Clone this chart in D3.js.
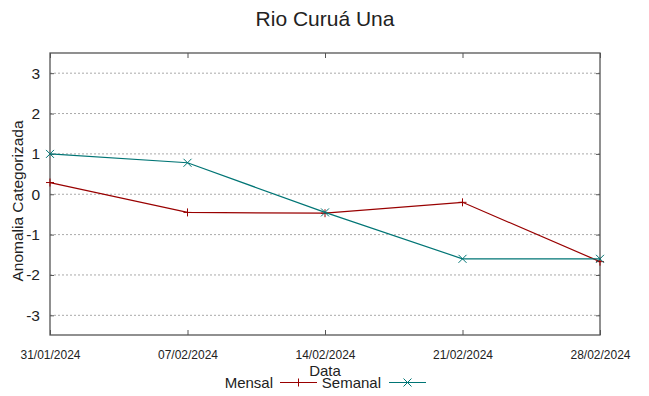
<!DOCTYPE html>
<html>
<head>
<meta charset="utf-8">
<script src="https://cdn.jsdelivr.net/npm/d3@7"></script>
<style>
  body { margin: 0; background: #fff; }
  text { font-family: "Liberation Sans", Arial, sans-serif; fill: #222; }
</style>
</head>
<body>
<svg width="649" height="396"></svg>
<script>
const dates = ["2024-01-31", "2024-02-07", "2024-02-14", "2024-02-21", "2024-02-28"];
const mensal = [0.29, -0.45, -0.47, -0.2, -1.67];
const semanal = [1.0, 0.78, -0.45, -1.6, -1.6];
const yTicks = [-3, -2, -1, 0, 1, 2, 3];

const parse = d3.timeParse("%Y-%m-%d");
const fmt = d3.timeFormat("%d/%m/%Y");

const svg = d3.select("svg");
const margin = {top: 53, right: 49, bottom: 61, left: 50};
const W = 649, H = 396;
const x0 = margin.left, x1 = W - margin.right;
const y0 = H - margin.bottom, y1 = margin.top;

const xScale = d3.scaleTime()
  .domain([parse(dates[0]), parse(dates[dates.length - 1])])
  .range([x0, x1]);
const yScale = d3.scaleLinear().domain([-3.5, 3.5]).range([y0 + 0.5, y1]);

// grid
svg.append("g").selectAll("line").data(yTicks).enter().append("line")
  .attr("x1", x0).attr("x2", x1)
  .attr("y1", d => yScale(d)).attr("y2", d => yScale(d))
  .attr("stroke", "#aaa").attr("stroke-width", 1)
  .attr("stroke-dasharray", "2,2");

// axes
const leftAxis = svg.append("g").attr("transform", "translate(" + x0 + ",0)")
  .call(d3.axisLeft(yScale).tickValues(yTicks).tickSize(-4).tickPadding(10).tickFormat(d => String(d)));
const rightAxis = svg.append("g").attr("transform", "translate(" + x1 + ",0)")
  .call(d3.axisRight(yScale).tickValues(yTicks).tickSize(-4).tickFormat(""));
const xTickVals = dates.map(parse);
const bottomAxis = svg.append("g").attr("transform", "translate(0," + y0 + ")")
  .call(d3.axisBottom(xScale).tickValues(xTickVals).tickSize(-5).tickPadding(15).tickFormat(fmt));
const topAxis = svg.append("g").attr("transform", "translate(0," + y1 + ")")
  .call(d3.axisTop(xScale).tickValues(xTickVals).tickSize(-5).tickFormat(""));

[leftAxis, rightAxis, bottomAxis, topAxis].forEach(g => {
  g.select(".domain").remove();
  g.selectAll(".tick line").attr("stroke", "#555");
});
leftAxis.selectAll("text").style("font-size", "15.5px").attr("fill", "#222");
bottomAxis.selectAll("text")
  .style("font-size", "12.5px").attr("fill", "#222")
  .attr("textLength", 60).attr("lengthAdjust", "spacingAndGlyphs");

svg.append("rect")
  .attr("x", x0).attr("y", y1).attr("width", x1 - x0).attr("height", y0 - y1)
  .attr("fill", "none").attr("stroke", "#555").attr("stroke-width", 1.3);

// series
const series = [
  {name: "Mensal", values: mensal, color: "#990000", marker: "+"},
  {name: "Semanal", values: semanal, color: "#007575", marker: "x"}
];

const line = d3.line().x(d => xScale(d.date)).y(d => yScale(d.v));

function marker(g, cx, cy, type, color) {
  const s = 4;
  if (type === "+") {
    g.append("path").attr("d", `M${cx - s},${cy}H${cx + s}M${cx},${cy - s}V${cy + s}`)
      .attr("stroke", color).attr("fill", "none");
  } else {
    g.append("path").attr("d", `M${cx - s},${cy - s}L${cx + s},${cy + s}M${cx - s},${cy + s}L${cx + s},${cy - s}`)
      .attr("stroke", color).attr("fill", "none");
  }
}

series.forEach(s => {
  const pts = dates.map((d, i) => ({date: parse(d), v: s.values[i]}));
  const g = svg.append("g");
  g.append("path").datum(pts).attr("d", line)
    .attr("fill", "none").attr("stroke", s.color).attr("stroke-width", 1.2);
  pts.forEach(p => marker(g, xScale(p.date), yScale(p.v), s.marker, s.color));
});

// labels
svg.append("text").attr("x", 325).attr("y", 26).attr("text-anchor", "middle")
  .style("font-size", "21px").text("Rio Curuá Una");
svg.append("text").attr("x", 325).attr("y", 376).attr("text-anchor", "middle")
  .style("font-size", "15px").text("Data");
svg.append("text").attr("transform", "translate(23,201) rotate(-90)").attr("text-anchor", "middle")
  .style("font-size", "15.5px").text("Anomalia Categorizada");

// legend
const legend = [
  {name: "Mensal", textEnd: 273, lx: 280, color: "#990000", marker: "+"},
  {name: "Semanal", textEnd: 381, lx: 389, color: "#007575", marker: "x"}
];
legend.forEach(l => {
  svg.append("text").attr("x", l.textEnd).attr("y", 388).attr("text-anchor", "end")
    .style("font-size", "15px").text(l.name);
  svg.append("line").attr("x1", l.lx).attr("x2", l.lx + 37).attr("y1", 382.5).attr("y2", 382.5)
    .attr("stroke", l.color).attr("stroke-width", 1.2);
  marker(svg, l.lx + 18.5, 382.5, l.marker, l.color);
});
</script>
</body>
</html>
